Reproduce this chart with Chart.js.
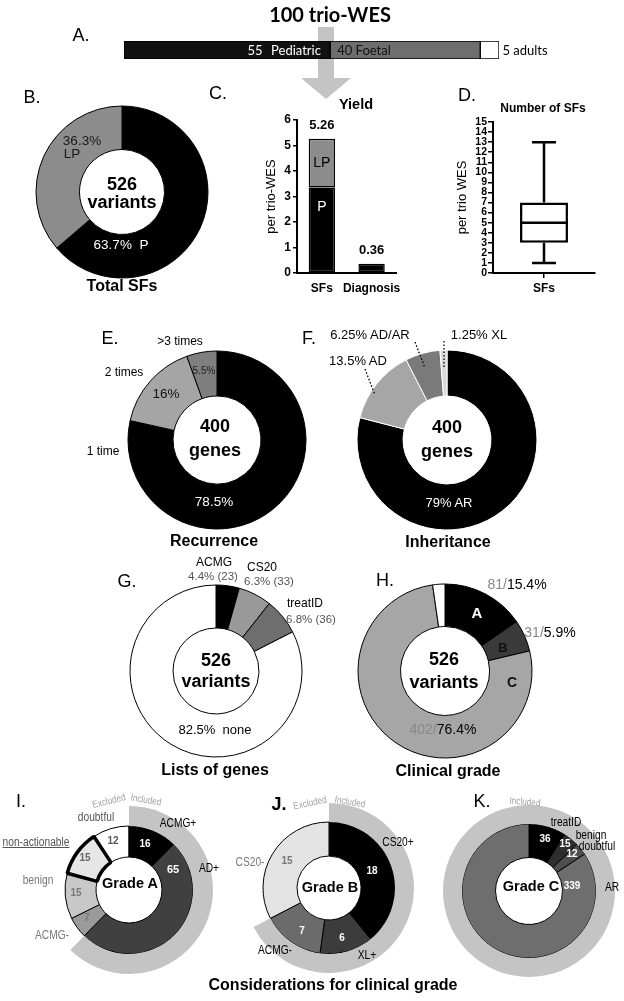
<!DOCTYPE html>
<html>
<head>
<meta charset="utf-8">
<script src="https://cdn.jsdelivr.net/npm/chart.js@4.4.1/dist/chart.umd.min.js"></script>
<style>
  html, body { margin: 0; padding: 0; background: #fff; }
  body { position: relative; width: 624px; height: 1001px; overflow: hidden; font-family: 'Liberation Sans', Arial, sans-serif; }
  canvas { position: absolute; z-index: 1; }
  .t { position: absolute; z-index: 3; transform: translate(-50%, -50%); white-space: nowrap; line-height: 1; color: #000; font-size: 12px; }
  .cap { font-weight: bold; font-size: 16px; }
  .ctr { font-weight: bold; font-size: 18px; }
  .grd { font-weight: bold; font-size: 14.5px; }
  .g { color: #888; }
</style>
</head>
<body>
<svg width="624" height="1001" style="position:absolute;left:0;top:0;z-index:0">
  <polygon points="318,27 334,27 334,78 351,78 326,99 301,78 318,78" fill="#c4c4c4"/>
</svg>
<svg width="624" height="1001" style="position:absolute;left:0;top:0;z-index:3;pointer-events:none">
  <g stroke="#000" stroke-width="1.3" stroke-dasharray="1.5,2">
    <line x1="444" y1="341" x2="444" y2="368"/>
    <line x1="415" y1="342" x2="425" y2="368"/>
    <line x1="365" y1="369" x2="375" y2="395"/>
  </g>
</svg>
<script>
// panel A - cohort
const cohort = ['Pediatric', 'Foetal', 'adults'];
const cohortN = [55, 40, 5];

// panel B - total SFs
const sfClass = ['P', 'LP'];
const sfClassPct = [63.7, 36.3];

// panel C - yield per trio
const yieldCats = ['SFs', 'Diagnosis'];
const yieldP = [3.35, 0.36];
const yieldLP = [1.91, null];
const yieldTicks = [0, 1, 2, 3, 4, 5, 6];

// panel D - number of SFs per trio (min, q1, median, q3, max)
const sfStats = [1, 3, 5, 7, 13];
const sfTicks = [0, 1, 2, 3, 4, 5, 6, 7, 8, 9, 10, 11, 12, 13, 14, 15];

// panel E - recurrence
const recurrence = ['1 time', '2 times', '>3 times'];
const recurrencePct = [78.5, 16, 5.5];

// panel F - inheritance
const inheritance = ['AR', 'AD', 'AD/AR', 'XL'];
const inheritancePct = [79, 13.5, 6.25, 1.25];

// panel G - lists of genes
const geneLists = ['ACMG', 'CS20', 'treatID', 'none'];
const geneListN = [23, 33, 36, 434];

// panel H - clinical grade
const grades = ['A', 'B', 'C', 'ungraded'];
const gradeN = [81, 31, 402, 12];

// panels I-K - considerations per grade
const gradeALabels = ['doubtful', 'ACMG+', 'AD+', 'ACMG-', 'benign', 'non-actionable'];
const gradeAN = [12, 16, 65, 7, 15, 15];
const gradeBLabels = ['CS20+', 'XL+', 'ACMG-', 'CS20-'];
const gradeBN = [18, 6, 7, 15];
const gradeCLabels = ['treatID', 'benign', 'doubtful', 'AR'];
const gradeCN = [36, 15, 12, 339];

Chart.defaults.font.family = "'Liberation Sans', Arial, sans-serif";
const BAND = '#c4c4c4';
const NONE = 'rgba(0,0,0,0)';
const NARROW = 'scaleX(.85)';
const sum = a => a.reduce((p, v) => p + v, 0);

function t(s, x, y, css, tf, cls) {
  const d = document.createElement('div');
  d.className = 't' + (cls ? ' ' + cls : '');
  d.innerHTML = s;
  d.style.cssText = 'left:' + x + 'px;top:' + y + 'px;' + (css || '');
  if (tf) d.style.transform = 'translate(-50%,-50%) ' + tf;
  document.body.appendChild(d);
}

function mk(x, y, w, h) {
  const c = document.createElement('canvas');
  c.width = w; c.height = h;
  c.style.left = x + 'px';
  c.style.top = y + 'px';
  document.body.appendChild(c);
  return c;
}

function ring(cx, cy, R, inner, labels, datasets, rotation) {
  const size = Math.ceil(2 * R + 8);
  const c = mk(cx - size / 2, cy - size / 2, size, size);
  return new Chart(c, {
    type: 'doughnut',
    data: { labels: labels, datasets: datasets },
    options: {
      responsive: false, animation: false, events: [],
      radius: R, cutout: (inner / R * 100) + '%', rotation: rotation || 0,
      plugins: { legend: { display: false }, tooltip: { enabled: false } }
    }
  });
}

// ---------- A ----------
const cohortColors = ['#111', '#6e6e6e', '#fff'];
new Chart(mk(124, 41, 375, 18), {
  type: 'bar',
  data: {
    labels: [''],
    datasets: cohort.map((k, i) => ({
      label: k, data: [cohortN[i]], backgroundColor: cohortColors[i],
      borderColor: '#000', borderWidth: 1, borderSkipped: false,
      barPercentage: 1, categoryPercentage: 1
    }))
  },
  options: {
    indexAxis: 'y', responsive: false, animation: false, events: [],
    layout: { padding: 0 },
    scales: { x: { display: false, stacked: true, min: 0, max: 100 }, y: { display: false, stacked: true } },
    plugins: { legend: { display: false }, tooltip: { enabled: false } }
  }
});
t('100 trio-WES', 330, 14, 'font:bold 20px Lato');
t('A.', 81, 35, 'font-size:18px');
t('55', 255, 50, 'font:13px Lato;color:#fff');
t('Pediatric', 296, 50, 'font:13px Lato;color:#fff');
t('40 Foetal', 364, 50, 'font:13px Lato;color:#111');
t('5 adults', 525, 50, 'font:13px Lato');

// ---------- B ----------
ring(122, 192, 86, 42.5, sfClass, [{
  data: sfClassPct, backgroundColor: ['#000', '#8c8c8c'], borderColor: '#000', borderWidth: 1
}]);
t('B.', 32, 97, 'font-size:18px');
t('36.3%', 82, 141, 'font-size:13.5px;color:#1a1a1a');
t('LP', 72, 154, 'font-size:13.5px;color:#1a1a1a');
t('526', 122, 184, '', '', 'ctr');
t('variants', 122, 202, '', '', 'ctr');
t('63.7%&nbsp;&nbsp;P', 121, 245, 'font-size:13.5px;color:#fff');
t('Total SFs', 122, 286, '', '', 'cap');

// ---------- C ----------
const yieldLabels = {
  id: 'yieldLabels',
  afterDatasetsDraw(chart) {
    const ctx = chart.ctx, y = chart.scales.y, bars = chart.getDatasetMeta(0).data;
    ctx.save();
    ctx.textAlign = 'center'; ctx.textBaseline = 'middle';
    ctx.font = "bold 13px 'Liberation Sans'";
    ctx.fillStyle = '#000';
    yieldCats.forEach((c, i) => {
      const total = yieldP[i] + (yieldLP[i] || 0);
      ctx.fillText(total.toFixed(2), bars[i].x, y.getPixelForValue(total) - 13);
    });
    ctx.font = "14px 'Liberation Sans'";
    ctx.fillText('LP', bars[0].x, y.getPixelForValue(yieldP[0] + yieldLP[0] / 2));
    ctx.fillStyle = '#fff';
    ctx.fillText('P', bars[0].x, y.getPixelForValue(2.6));
    ctx.restore();
  }
};
new Chart(mk(240, 110, 170, 188), {
  type: 'bar',
  data: {
    labels: yieldCats,
    datasets: [
      { label: 'P', data: yieldP, backgroundColor: '#000', borderColor: '#000', borderWidth: 1.5, borderSkipped: false },
      { label: 'LP', data: yieldLP, backgroundColor: '#8c8c8c', borderColor: '#000', borderWidth: 1.5, borderSkipped: false }
    ]
  },
  options: {
    responsive: false, animation: false, events: [],
    layout: { padding: { left: 24, top: 10, right: 7, bottom: 0 } },
    datasets: { bar: { barPercentage: 0.53, categoryPercentage: 1 } },
    scales: {
      x: {
        stacked: true, grid: { display: false, drawTicks: false },
        border: { color: '#000', width: 2 },
        ticks: { color: '#000', font: { weight: 'bold', size: 12 }, padding: 8, maxRotation: 0, minRotation: 0, autoSkip: false },
        afterFit: s => { s.height = 25; }
      },
      y: {
        stacked: true, min: yieldTicks[0], max: yieldTicks[yieldTicks.length - 1],
        ticks: { stepSize: 1, color: '#000', font: { weight: 'bold', size: 12 }, padding: 2 },
        grid: { drawOnChartArea: false, color: '#000', lineWidth: 1.5, tickLength: 4 },
        border: { color: '#000', width: 2 },
        title: { display: true, text: 'per trio-WES', color: '#000', font: { size: 13 }, padding: 0 },
        afterFit: s => { s.width = 33; }
      }
    },
    plugins: { legend: { display: false }, tooltip: { enabled: false } }
  },
  plugins: [yieldLabels]
});
t('C.', 218, 93, 'font-size:18px');
t('Yield', 356, 104, 'font-weight:bold;font-size:14.5px');

// ---------- D ----------
const boxWhiskers = {
  id: 'boxWhiskers',
  afterDatasetsDraw(chart) {
    const y = chart.scales.y, bar = chart.getDatasetMeta(0).data[0], ctx = chart.ctx;
    const half = bar.width / 2, py = v => y.getPixelForValue(v);
    ctx.save();
    ctx.strokeStyle = '#000'; ctx.lineWidth = 2.5;
    ctx.beginPath();
    ctx.moveTo(bar.x, py(sfStats[3])); ctx.lineTo(bar.x, py(sfStats[4]));
    ctx.moveTo(bar.x, py(sfStats[1])); ctx.lineTo(bar.x, py(sfStats[0]));
    ctx.moveTo(bar.x - half / 2, py(sfStats[4])); ctx.lineTo(bar.x + half / 2, py(sfStats[4]));
    ctx.moveTo(bar.x - half / 2, py(sfStats[0])); ctx.lineTo(bar.x + half / 2, py(sfStats[0]));
    ctx.moveTo(bar.x - half, py(sfStats[2])); ctx.lineTo(bar.x + half, py(sfStats[2]));
    ctx.stroke();
    ctx.restore();
  }
};
new Chart(mk(410, 112, 214, 186), {
  type: 'bar',
  data: {
    labels: ['SFs'],
    datasets: [{
      data: [[sfStats[1], sfStats[3]]], backgroundColor: '#fff', borderColor: '#000',
      borderWidth: 2.5, borderSkipped: false, barPercentage: 0.47, categoryPercentage: 1
    }]
  },
  options: {
    responsive: false, animation: false, events: [],
    layout: { padding: { left: 45, top: 10, right: 29, bottom: 0 } },
    scales: {
      x: {
        grid: { drawOnChartArea: false, offset: false, color: '#000', lineWidth: 1.5, tickLength: 5 },
        border: { color: '#000', width: 2 },
        ticks: { color: '#000', font: { weight: 'bold', size: 12 }, padding: 3, maxRotation: 0 },
        afterFit: s => { s.height = 25; }
      },
      y: {
        min: sfTicks[0], max: sfTicks[sfTicks.length - 1],
        ticks: { stepSize: 1, autoSkip: false, color: '#000', font: { weight: 'bold', size: 10.5 }, padding: 1 },
        grid: { drawOnChartArea: false, color: '#000', lineWidth: 1.5, tickLength: 5 },
        border: { color: '#000', width: 2 },
        title: { display: true, text: 'per trio WES', color: '#000', font: { size: 13 }, padding: 0 },
        afterFit: s => { s.width = 38; }
      }
    },
    plugins: { legend: { display: false }, tooltip: { enabled: false } }
  },
  plugins: [boxWhiskers]
});
t('D.', 467, 95, 'font-size:18px');
t('Number of SFs', 543, 108, 'font-weight:bold;font-size:12px');

// ---------- E ----------
ring(216.5, 439.5, 89, 44, recurrence, [{
  data: recurrencePct, backgroundColor: ['#000', '#a5a5a5', '#7f7f7f'], borderColor: '#000', borderWidth: 1
}]);
t('E.', 110, 338, 'font-size:18px');
t('&gt;3 times', 180, 341);
t('2 times', 124, 372);
t('1 time', 103, 451);
t('5.5%', 204, 371, 'font-size:10px;color:#222');
t('16%', 166, 394, 'font-size:13.5px;color:#111');
t('400', 215, 426, '', '', 'ctr');
t('genes', 215, 450, '', '', 'ctr');
t('78.5%', 214, 502, 'font-size:13.5px;color:#fff');
t('Recurrence', 214, 541, '', '', 'cap');

// ---------- F ----------
ring(447, 440, 90, 44, inheritance, [{
  data: inheritancePct, backgroundColor: ['#000', '#a6a6a6', '#7a7a7a', '#d9d9d9'], borderColor: '#fff', borderWidth: 1
}]);
t('F.', 309, 338, 'font-size:18px');
t('6.25% AD/AR', 370, 334, 'font-size:13px');
t('1.25% XL', 479, 334, 'font-size:13px');
t('13.5% AD', 358, 360, 'font-size:13px');
t('400', 447, 427, '', '', 'ctr');
t('genes', 447, 451, '', '', 'ctr');
t('79% AR', 449, 502, 'font-size:13px;color:#fff');
t('Inheritance', 448, 542, '', '', 'cap');

// ---------- G ----------
ring(216, 671, 86, 43, geneLists, [{
  data: geneListN, backgroundColor: ['#000', '#999', '#6e6e6e', '#fff'], borderColor: '#000', borderWidth: 1
}]);
t('G.', 127, 581, 'font-size:18px');
t('ACMG', 214, 562);
t('4.4% (23)', 213, 577, 'font-size:11.5px;color:#555');
t('CS20', 262, 567);
t('6.3% (33)', 269, 582, 'font-size:11.5px;color:#555');
t('treatID', 305, 603);
t('6.8% (36)', 311, 620, 'font-size:11.5px;color:#555');
t('526', 216, 660, '', '', 'ctr');
t('variants', 216, 681, '', '', 'ctr');
t('82.5%&nbsp;&nbsp;none', 215, 729, 'font-size:13px');
t('Lists of genes', 215, 770, '', '', 'cap');

// ---------- H ----------
ring(444.5, 671, 87, 44.5, grades, [{
  data: gradeN, backgroundColor: ['#000', '#3a3a3a', '#a6a6a6', '#fff'], borderColor: '#000', borderWidth: 1
}]);
t('H.', 385, 580, 'font-size:18px');
t('<span class="g">81/</span>15.4%', 517, 584, 'font-size:14px');
t('<span class="g">31/</span>5.9%', 550, 632, 'font-size:14px');
t('A', 477, 612, 'font-weight:bold;font-size:15px;color:#fff');
t('B', 503, 647, 'font-weight:bold;font-size:13px;color:#111');
t('C', 512, 682, 'font-weight:bold;font-size:14px;color:#111');
t('526', 444, 659, '', '', 'ctr');
t('variants', 444, 682, '', '', 'ctr');
t('<span class="g">402/</span>76.4%', 443, 729, 'font-size:14px');
t('Clinical grade', 448, 771, '', '', 'cap');

// ---------- I ----------
const totA = sum(gradeAN);
ring(129, 890, 84, 33, gradeALabels, [
  { data: [gradeAN[0], gradeN[0], totA - gradeAN[0] - gradeN[0]], backgroundColor: [NONE, BAND, NONE], borderWidth: 0, weight: 20 },
  {
    data: gradeAN, backgroundColor: ['#fff', '#000', '#404040', '#9a9a9a', '#c8c8c8', '#e6e6e6'],
    borderColor: '#000', borderWidth: [1, 1, 1, 1, 1, 3.5], weight: 31
  }
], -gradeAN[0] / totA * 360);
t('I.', 21, 801, 'font-size:18px');
t('Excluded', 109, 801, 'font-size:10px;color:#a0a0a0', 'rotate(-14deg) scaleX(.82)');
t('Included', 146, 800, 'font-size:10px;color:#a0a0a0', 'rotate(10deg) scaleX(.82)');
t('doubtful', 96, 817, 'color:#555', NARROW);
t('ACMG+', 178, 823, '', NARROW);
t('non-actionable', 36, 842, 'color:#555;text-decoration:underline', NARROW);
t('benign', 38, 880, 'color:#777', NARROW);
t('ACMG-', 52, 935, 'color:#777', NARROW);
t('AD+', 209, 868, '', NARROW);
t('16', 145, 844, 'font-weight:bold;font-size:10px;color:#fff');
t('65', 173, 869, 'font-weight:bold;font-size:11px;color:#fff');
t('12', 113, 841, 'font-weight:bold;font-size:10px;color:#555');
t('15', 85, 858, 'font-weight:bold;font-size:10px;color:#666');
t('15', 76, 893, 'font-weight:bold;font-size:10px;color:#777');
t('7', 87, 918, 'font-weight:bold;font-size:10px;color:#777');
t('Grade A', 130, 883, '', '', 'grd');

// ---------- J ----------
const totB = sum(gradeBN);
ring(329, 888, 85, 32, gradeBLabels, [
  { data: [gradeN[1], totB - gradeN[1]], backgroundColor: [BAND, NONE], borderWidth: 0, weight: 19 },
  { data: gradeBN, backgroundColor: ['#000', '#3c3c3c', '#6b6b6b', '#e3e3e3'], borderColor: '#000', borderWidth: 1, weight: 34 }
]);
t('J.', 279, 804, 'font-size:18px;font-weight:bold');
t('Excluded', 310, 803, 'font-size:10px;color:#a0a0a0', 'rotate(-12deg) scaleX(.82)');
t('Included', 350, 802, 'font-size:10px;color:#a0a0a0', 'rotate(10deg) scaleX(.82)');
t('CS20+', 398, 842, '', NARROW);
t('CS20-', 250, 862, 'color:#777', NARROW);
t('15', 287, 861, 'font-weight:bold;font-size:10px;color:#777');
t('18', 372, 871, 'font-weight:bold;font-size:10px;color:#fff');
t('7', 302, 931, 'font-weight:bold;font-size:10px;color:#fff');
t('6', 342, 938, 'font-weight:bold;font-size:10px;color:#fff');
t('ACMG-', 275, 950, '', NARROW);
t('XL+', 367, 955, '', NARROW);
t('Grade B', 330, 887, '', '', 'grd');

// ---------- K ----------
ring(529, 891, 86, 33.5, gradeCLabels, [
  { data: [sum(gradeCN)], backgroundColor: [BAND], borderWidth: 0, weight: 19 },
  { data: gradeCN, backgroundColor: ['#000', '#2e2e2e', '#4e4e4e', '#6e6e6e'], borderColor: '#000', borderWidth: 1, weight: 33.5 }
]);
t('K.', 482, 801, 'font-size:18px');
t('Included', 525, 802, 'font-size:10px;color:#a0a0a0', 'rotate(5deg) scaleX(.82)');
t('treatID', 566, 822, '', NARROW);
t('benign', 591, 835, '', NARROW);
t('doubtful', 597, 846, '', NARROW);
t('AR', 612, 887, '', NARROW);
t('36', 545, 839, 'font-weight:bold;font-size:10px;color:#fff');
t('15', 565, 844, 'font-weight:bold;font-size:10px;color:#fff');
t('12', 572, 854, 'font-weight:bold;font-size:10px;color:#fff');
t('339', 572, 886, 'font-weight:bold;font-size:10px;color:#fff');
t('Grade C', 531, 886, '', '', 'grd');

t('Considerations for clinical grade', 333, 985, '', '', 'cap');
</script>
</body>
</html>
